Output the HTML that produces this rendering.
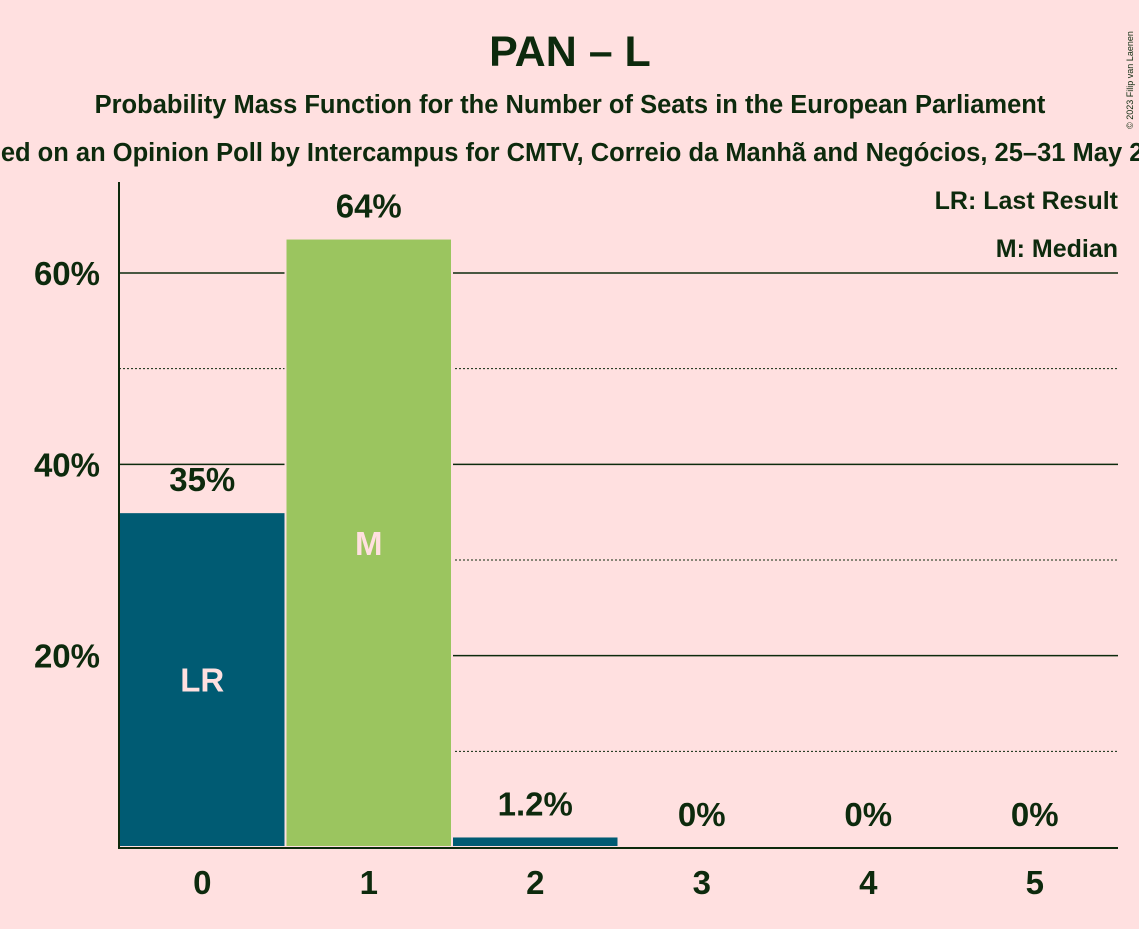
<!DOCTYPE html>
<html><head><meta charset="utf-8"><style>
html,body{margin:0;padding:0;background:#ffe0e0;}
svg text{font-family:"Liberation Sans",sans-serif;font-weight:bold;fill:#0d2a0d;}
</style></head><body>
<svg width="1139" height="924">
<rect width="1139" height="924" fill="#ffe0e0"/>
<text x="570" y="66" font-size="43" text-anchor="middle">PAN – L</text>
<text x="570" y="113" font-size="25.5" text-anchor="middle">Probability Mass Function for the Number of Seats in the European Parliament</text>
<text x="570" y="161" font-size="25.5" text-anchor="middle">Based on an Opinion Poll by Intercampus for CMTV, Correio da Manhã and Negócios, 25–31 May 2023</text>
<text x="1133" y="80" font-size="9" transform="rotate(-90 1133 80)" text-anchor="middle" style="font-weight:normal">© 2023 Filip van Laenen</text>
<g id="grid"></g>
<g id="bars"></g>
<line x1="119" y1="182" x2="119" y2="848" stroke="#0d2a0d" stroke-width="2"/>
<line x1="118" y1="848" x2="1118" y2="848" stroke="#0d2a0d" stroke-width="2"/>
<text x="1118" y="209" font-size="25" text-anchor="end">LR: Last Result</text>
<text x="1118" y="257" font-size="25" text-anchor="end">M: Median</text>
<g id="labels"></g>
</svg>
<script>
const categories=[0,1,2,3,4,5];
const values=[35,63.6,1.1,0,0,0];
const valueLabels=["35%","64%","1.2%","0%","0%","0%"];
const innerLabels=["LR","M","","","",""];
const yTicks=[20,40,60];
const yMinor=[10,30,50];
const ns="http://www.w3.org/2000/svg";
const x0=119,step=166.5,yBase=847,pxPer=9.567;
function y(v){return yBase-v*pxPer;}
function xc(i){return x0+step*(i+0.5);}
const grid=document.getElementById('grid'),bars=document.getElementById('bars'),labels=document.getElementById('labels');
function mk(tag,attrs,parent){const e=document.createElementNS(ns,tag);for(const k in attrs)e.setAttribute(k,attrs[k]);parent.appendChild(e);return e;}
yMinor.forEach(t=>{const l=mk('line',{x1:119,x2:1118,y1:y(t),y2:y(t),stroke:'#0d2a0d','stroke-width':1,'stroke-dasharray':'2,2'},grid);

});
yTicks.forEach(t=>{const l=mk('line',{x1:119,x2:1118,y1:y(t),y2:y(t),stroke:'#0d2a0d','stroke-width':1.5},grid);


const tx=mk('text',{x:100,y:y(t)+12,'font-size':33,'text-anchor':'end'},labels);tx.textContent=t+'%';

});
categories.forEach((c,i)=>{
  const v=values[i];
  const col=i%2===0?'#005b73':'#9bc55f';
  if(v>0){const r=mk('rect',{x:xc(i)-step/2,y:y(v),width:step,height:yBase-y(v),fill:col,stroke:'#ffe0e0','stroke-width':2},bars);
  
  }
  const t=mk('text',{x:xc(i),y:y(v)-21,'font-size':33,'text-anchor':'middle'},labels);t.textContent=valueLabels[i];
  
  
  if(innerLabels[i]){const m=mk('text',{x:xc(i),y:y(v/2)+12,'font-size':33,'text-anchor':'middle',style:'fill:#ffe0e0'},labels);m.textContent=innerLabels[i];
  
  }
  const xl=mk('text',{x:xc(i),y:894,'font-size':33,'text-anchor':'middle'},labels);xl.textContent=c;
  
  
});
</script>
</body></html>
